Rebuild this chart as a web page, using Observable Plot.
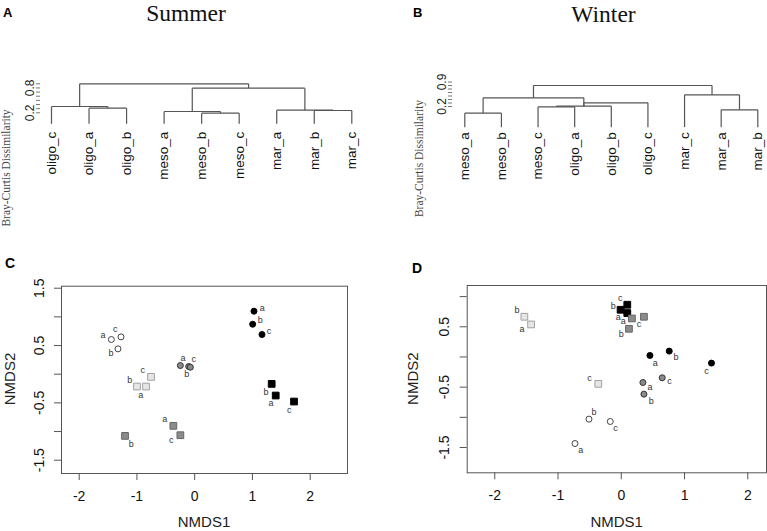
<!DOCTYPE html>
<html><head><meta charset="utf-8">
<script src="https://cdn.jsdelivr.net/npm/d3@7"></script>
<script src="https://cdn.jsdelivr.net/npm/@observablehq/plot@0.6"></script>
<style>
body{margin:0;background:#fff;}
#wrap{position:relative;width:767px;height:531px;overflow:hidden;background:#fff;}
#wrap > svg{position:absolute;}
</style></head><body><div id="wrap"></div>
<script>
// ---------- DATA ----------
// Dendrogram A (Summer)
const summerLeaves = ["oligo_c","oligo_a","oligo_b","meso_a","meso_b","meso_c","mar_a","mar_b","mar_c"];
const summerMerges = [
  {id:"s1", left:"oligo_a", right:"oligo_b", height:0.311},
  {id:"s2", left:"oligo_c", right:"s1",      height:0.352},
  {id:"s3", left:"meso_b",  right:"meso_c",  height:0.190},
  {id:"s4", left:"meso_a",  right:"s3",      height:0.231},
  {id:"s5", left:"mar_b",   right:"mar_c",   height:0.256},
  {id:"s6", left:"mar_a",   right:"s5",      height:0.263},
  {id:"s7", left:"s4",      right:"s6",      height:0.794},
  {id:"s8", left:"s2",      right:"s7",      height:0.900}
];
const summerLeafHeight = -0.066;
const summerTickLabels = [0.2, 0.8];

// Dendrogram B (Winter)
const winterLeaves = ["meso_a","meso_b","meso_c","oligo_a","oligo_b","oligo_c","mar_c","mar_a","mar_b"];
const winterMerges = [
  {id:"w1", left:"meso_a",  right:"meso_b",  height:0.009},
  {id:"w2", left:"meso_c",  right:"oligo_a", height:0.191},
  {id:"w3", left:"w2",      right:"oligo_b", height:0.209},
  {id:"w4", left:"w3",      right:"oligo_c", height:0.306},
  {id:"w5", left:"w1",      right:"w3",      height:0.449},
  {id:"w6", left:"mar_a",   right:"mar_b",   height:0.106},
  {id:"w7", left:"mar_c",   right:"w6",      height:0.534},
  {id:"w8", left:"w5",      right:"w7",      height:0.800}
];
const winterLeafHeight = -0.391;
const winterTickLabels = [0.2, 0.9];

const dendroTicks = [0.2, 0.3, 0.4, 0.5, 0.6, 0.7, 0.8, 0.9];

// NMDS C (Summer)
const summerPoints = [
  {shade:"white", shape:"circle", sample:"a", nmds1:-1.443, nmds2: 0.605},
  {shade:"white", shape:"circle", sample:"c", nmds1:-1.276, nmds2: 0.651},
  {shade:"white", shape:"circle", sample:"b", nmds1:-1.328, nmds2: 0.442},
  {shade:"gray",  shape:"circle", sample:"a", nmds1:-0.248, nmds2: 0.151},
  {shade:"gray",  shape:"circle", sample:"b", nmds1:-0.104, nmds2: 0.134},
  {shade:"gray",  shape:"circle", sample:"c", nmds1:-0.075, nmds2: 0.122},
  {shade:"black", shape:"circle", sample:"a", nmds1: 1.027, nmds2: 1.099},
  {shade:"black", shape:"circle", sample:"b", nmds1: 1.004, nmds2: 0.872},
  {shade:"black", shape:"circle", sample:"c", nmds1: 1.166, nmds2: 0.692},
  {shade:"white", shape:"square", sample:"c", nmds1:-0.756, nmds2:-0.047},
  {shade:"white", shape:"square", sample:"b", nmds1:-0.999, nmds2:-0.215},
  {shade:"white", shape:"square", sample:"a", nmds1:-0.843, nmds2:-0.215},
  {shade:"black", shape:"square", sample:"b", nmds1: 1.333, nmds2:-0.169},
  {shade:"black", shape:"square", sample:"a", nmds1: 1.403, nmds2:-0.372},
  {shade:"black", shape:"square", sample:"c", nmds1: 1.720, nmds2:-0.477},
  {shade:"gray",  shape:"square", sample:"a", nmds1:-0.369, nmds2:-0.901},
  {shade:"gray",  shape:"square", sample:"c", nmds1:-0.248, nmds2:-1.064},
  {shade:"gray",  shape:"square", sample:"b", nmds1:-1.206, nmds2:-1.076}
];

// NMDS D (Winter)
const winterPoints = [
  {shade:"white", shape:"square", sample:"b", nmds1:-1.532, nmds2: 0.666},
  {shade:"white", shape:"square", sample:"a", nmds1:-1.426, nmds2: 0.539},
  {shade:"white", shape:"square", sample:"c", nmds1:-0.363, nmds2:-0.445},
  {shade:"black", shape:"square", sample:"c", nmds1: 0.095, nmds2: 0.865},
  {shade:"black", shape:"square", sample:"b", nmds1:-0.011, nmds2: 0.782},
  {shade:"black", shape:"square", sample:"a", nmds1: 0.095, nmds2: 0.727},
  {shade:"gray",  shape:"square", sample:"a", nmds1: 0.168, nmds2: 0.638},
  {shade:"gray",  shape:"square", sample:"c", nmds1: 0.358, nmds2: 0.666},
  {shade:"gray",  shape:"square", sample:"b", nmds1: 0.121, nmds2: 0.467},
  {shade:"black", shape:"circle", sample:"a", nmds1: 0.453, nmds2: 0.025},
  {shade:"black", shape:"circle", sample:"b", nmds1: 0.758, nmds2: 0.097},
  {shade:"black", shape:"circle", sample:"c", nmds1: 1.426, nmds2:-0.102},
  {shade:"gray",  shape:"circle", sample:"a", nmds1: 0.342, nmds2:-0.423},
  {shade:"gray",  shape:"circle", sample:"c", nmds1: 0.647, nmds2:-0.345},
  {shade:"gray",  shape:"circle", sample:"b", nmds1: 0.358, nmds2:-0.616},
  {shade:"white", shape:"circle", sample:"b", nmds1:-0.511, nmds2:-1.030},
  {shade:"white", shape:"circle", sample:"c", nmds1:-0.174, nmds2:-1.069},
  {shade:"white", shape:"circle", sample:"a", nmds1:-0.732, nmds2:-1.434}
];

const nmdsXTicks = [-2, -1, 0, 1, 2];
const summerYTicks = [-1.5, -1, -0.5, 0, 0.5, 1, 1.5];
const summerYLabels = [-1.5, -0.5, 0.5, 1.5];
const winterYTicks = [-1.5, -1, -0.5, 0, 0.5, 1];
const winterYLabels = [-1.5, -0.5, 0.5];

// ---------- STYLE / LAYOUT ----------
const SANS = "'Liberation Sans', Arial, Helvetica, sans-serif";
const SERIF = "'Liberation Serif', 'Times New Roman', serif";
const groupStyles = {
  "white-circle": {symbol:"circle", r:3,   fill:"#ffffff", stroke:"#444"},
  "gray-circle":  {symbol:"circle", r:3,   fill:"#8a8a8a", stroke:"#333"},
  "black-circle": {symbol:"circle", r:3,   fill:"#000000", stroke:"#000"},
  "white-square": {symbol:"square", r:3.8, fill:"#e6e6e6", stroke:"#a0a0a0"},
  "black-square": {symbol:"square", r:3.8, fill:"#000000", stroke:"#000"},
  "gray-square":  {symbol:"square", r:3.8, fill:"#8c8c8c", stroke:"#666"}
};
const summerLabelOffsets = {
  "white-circle-a":[-8.3,-4.7], "white-circle-c":[-5.7,-7.3], "white-circle-b":[-7,4.3],
  "gray-circle-a":[2.7,-7.3], "gray-circle-b":[-2,8], "gray-circle-c":[3.3,-8.3],
  "black-circle-a":[8.3,-3], "black-circle-b":[7.7,-3.7], "black-circle-c":[7,-3.7],
  "white-square-c":[-8.3,-7], "white-square-b":[-7.3,-6], "white-square-a":[-5.3,9],
  "black-square-b":[-5.7,8.3], "black-square-a":[-4.7,8], "black-square-c":[-4.7,9],
  "gray-square-a":[-8.7,-7], "gray-square-c":[-9,5.3], "gray-square-b":[6.3,8.3]
};
const winterLabelOffsets = {
  "white-square-b":[-7.3,-7], "white-square-a":[-9,4.7], "white-square-c":[-8.7,-6],
  "black-square-c":[-7,-7], "black-square-b":[-7.3,-3.7], "black-square-a":[-9,4],
  "gray-square-a":[-8.7,2.7], "gray-square-c":[-5,7.3], "gray-square-b":[-7.7,5],
  "black-circle-a":[5.3,7.7], "black-circle-b":[6.7,6], "black-circle-c":[-5,7.7],
  "gray-circle-a":[7,4.7], "gray-circle-c":[7.3,3.7], "gray-circle-b":[7.3,6.7],
  "white-circle-b":[5,-7], "white-circle-c":[5.3,6.7], "white-circle-a":[5.7,6.3]
};

const wrap = document.getElementById("wrap");
function place(svg, left, top) {
  svg.style.left = left + "px";
  svg.style.top = top + "px";
  wrap.appendChild(svg);
}

function dendroSegments(leaves, merges, leafH) {
  const pos = new Map(leaves.map((d, i) => [d, i]));
  const hgt = new Map(leaves.map(d => [d, leafH]));
  const segs = [];
  for (const m of merges) {
    const xl = pos.get(m.left), xr = pos.get(m.right);
    segs.push({x1: xl, y1: hgt.get(m.left), x2: xl, y2: m.height});
    segs.push({x1: xl, y1: m.height, x2: xr, y2: m.height});
    segs.push({x1: xr, y1: hgt.get(m.right), x2: xr, y2: m.height});
    pos.set(m.id, (xl + xr) / 2);
    hgt.set(m.id, m.height);
  }
  return segs;
}

function dendroPlot({leaves, merges, leafH, tickLabels, width, marginLeft, xRange, yRange, labelDy}) {
  const segs = dendroSegments(leaves, merges, leafH);
  return Plot.plot({
    width, height: 230,
    marginLeft, marginTop: 0, marginRight: 0, marginBottom: 0,
    style: {fontFamily: SANS, background: "transparent"},
    x: {domain: [0, leaves.length - 1], range: xRange, axis: null},
    y: {domain: [0.2, 0.9], range: yRange},
    marks: [
      Plot.axisY({
        ticks: dendroTicks, tickSize: 4, tickRotate: -90, tickPadding: 3,
        tickFormat: d => tickLabels.some(t => Math.abs(t - d) < 1e-9) ? d.toFixed(1) : "",
        fontSize: 12, label: null, stroke: "#777", fill: "#222"
      }),
      Plot.link(segs, {x1: "x1", y1: "y1", x2: "x2", y2: "y2", stroke: "#555", strokeWidth: 1.2}),
      Plot.text(leaves, {
        x: (d, i) => i, y: () => leafH, text: d => d,
        rotate: -90, textAnchor: "end", lineAnchor: "middle",
        dy: labelDy, fontSize: 13.5, fill: "#111"
      })
    ]
  });
}

function nmdsPlot({points, offsets, width, margins, xDomain, yDomain, yTicks, yLabels}) {
  const marks = [Plot.frame({stroke: "#555", strokeWidth: 1})];
  marks.push(Plot.axisX({
    ticks: nmdsXTicks, tickSize: 7, tickPadding: 10.5, fontSize: 14,
    tickFormat: d => String(d), label: null, stroke: "#555", fill: "#111"
  }));
  marks.push(Plot.axisY({
    ticks: yTicks, tickSize: 7, tickPadding: 11, tickRotate: -90, fontSize: 14,
    tickFormat: d => yLabels.includes(d) ? String(d) : "", label: null, stroke: "#555", fill: "#111"
  }));
  for (const key of Object.keys(groupStyles)) {
    const s = groupStyles[key];
    marks.push(Plot.dot(points, {
      filter: d => d.shade + "-" + d.shape === key,
      x: "nmds1", y: "nmds2", symbol: s.symbol, r: s.r,
      fill: s.fill, stroke: s.stroke, strokeWidth: 1
    }));
  }
  for (const p of points) {
    const off = offsets[p.shade + "-" + p.shape + "-" + p.sample] || [6, 0];
    marks.push(Plot.text([p], {
      x: "nmds1", y: "nmds2", text: "sample",
      dx: off[0], dy: off[1], fontSize: 9, fill: "#333"
    }));
  }
  return Plot.plot({
    width, height: 301,
    marginLeft: margins[0], marginRight: margins[1], marginTop: margins[2], marginBottom: margins[3],
    style: {fontFamily: SANS, background: "transparent"},
    x: {domain: xDomain},
    y: {domain: yDomain},
    marks
  });
}

// Panels
place(dendroPlot({
  leaves: summerLeaves, merges: summerMerges, leafH: summerLeafHeight, tickLabels: summerTickLabels,
  width: 380, marginLeft: 40, xRange: [51, 351.3], yRange: [112.3, 83.3], labelDy: 8
}), 0, 0);

place(dendroPlot({
  leaves: winterLeaves, merges: winterMerges, leafH: winterLeafHeight, tickLabels: winterTickLabels,
  width: 387, marginLeft: 72, xRange: [84.3, 377.3], yRange: [106, 81.5], labelDy: 5
}), 380, 0);

place(nmdsPlot({
  points: summerPoints, offsets: summerLabelOffsets, width: 380,
  margins: [61, 33, 55.7, 58], xDomain: [-2.306, 2.646], yDomain: [-1.732, 1.535],
  yTicks: summerYTicks, yLabels: summerYLabels
}), 0, 230);

place(nmdsPlot({
  points: winterPoints, offsets: winterLabelOffsets, width: 387,
  margins: [86.7, 1, 55, 58.7], xDomain: [-2.436, 2.296], yDomain: [-1.919, 1.184],
  yTicks: winterYTicks, yLabels: winterYLabels
}), 380, 230);

// Titles and labels overlay
const ns = "http://www.w3.org/2000/svg";
const ov = document.createElementNS(ns, "svg");
ov.setAttribute("width", 767); ov.setAttribute("height", 531);
ov.style.left = "0px"; ov.style.top = "0px"; ov.style.pointerEvents = "none";
function addText(str, x, y, attrs) {
  const t = document.createElementNS(ns, "text");
  t.setAttribute("x", x); t.setAttribute("y", y);
  for (const k in attrs) t.setAttribute(k, attrs[k]);
  t.textContent = str;
  ov.appendChild(t);
}
const letter = size => ({"font-family": SANS, "font-weight": "bold", "font-size": size, fill: "#000"});
addText("A", 3, 17, letter(13));
addText("B", 413, 17.3, letter(13));
addText("C", 5, 268.3, letter(14));
addText("D", 412, 273.3, letter(14));
const title = {"font-family": SERIF, "font-size": 23.5, "text-anchor": "middle", fill: "#111"};
addText("Summer", 186, 21, title);
addText("Winter", 603.5, 21.5, title);
const bc = {"font-family": SERIF, "font-size": 11.5, "text-anchor": "middle", fill: "#444"};
addText("Bray-Curtis Dissimilarity", 0, 0, Object.assign({transform: "translate(10,168) rotate(-90)"}, bc));
addText("Bray-Curtis Dissimilarity", 0, 0, Object.assign({transform: "translate(423,158.5) rotate(-90)"}, bc));
const ax = {"font-family": SANS, "font-size": 15, "text-anchor": "middle", fill: "#222"};
addText("NMDS1", 204, 526.7, ax);
addText("NMDS1", 616.7, 526.7, ax);
addText("NMDS2", 0, 0, Object.assign({transform: "translate(15,379) rotate(-90)"}, ax));
addText("NMDS2", 0, 0, Object.assign({transform: "translate(418.3,378.7) rotate(-90)"}, ax));
wrap.appendChild(ov);
</script>
</body></html>
